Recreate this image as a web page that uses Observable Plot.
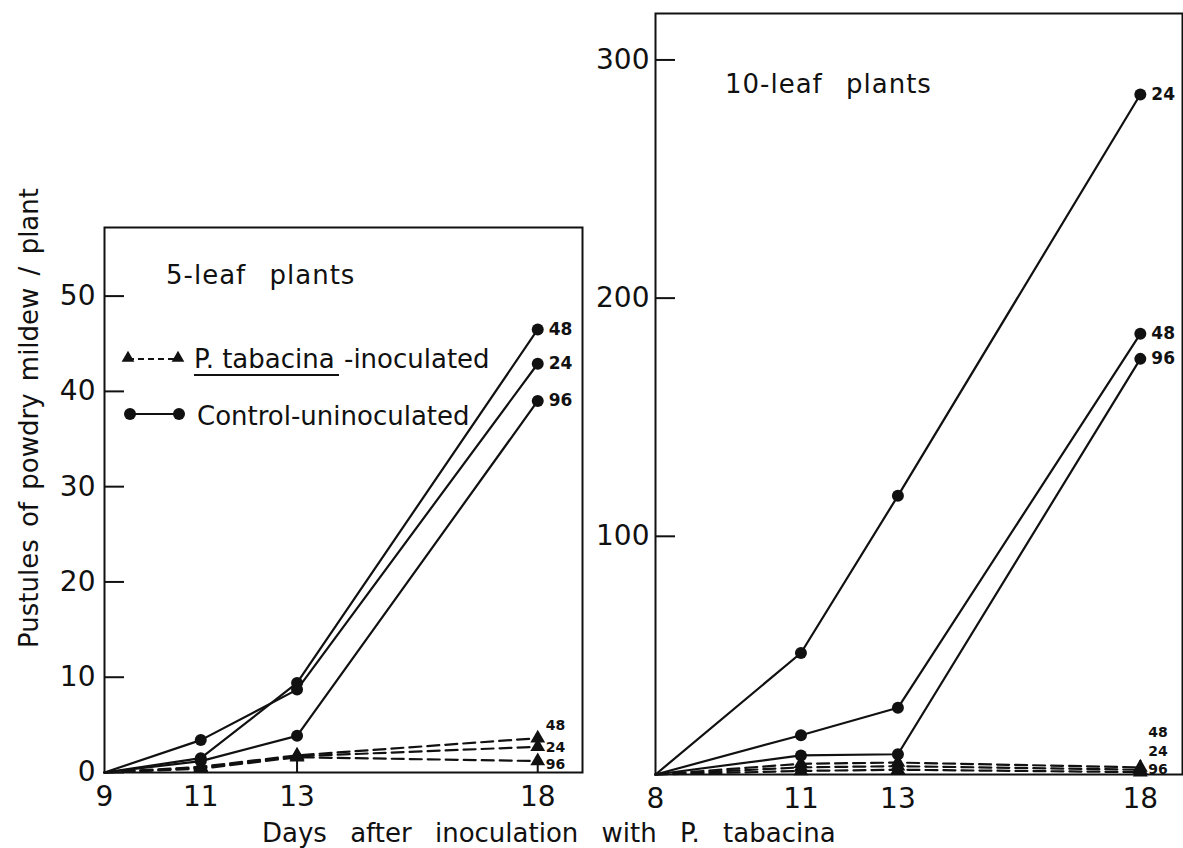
<!DOCTYPE html>
<html>
<head>
<meta charset="utf-8">
<script src="https://cdn.jsdelivr.net/npm/d3@7"></script>
<script src="https://cdn.jsdelivr.net/npm/@observablehq/plot@0.6"></script>
<style>
  body { margin: 0; background: #fff; }
  #wrap { position: relative; width: 1183px; height: 848px; overflow: hidden; background: #fff; }
</style>
</head>
<body>
<div id="wrap"></div>
<script>
// ---------- data ----------
const days5  = [9, 11, 13, 18];
const days10 = [8, 11, 13, 18];

// 5-leaf plants (pustules / plant)
const ctrl5_24 = [0, 3.4, 8.7, 42.9];
const ctrl5_48 = [0, 1.5, 9.4, 46.5];
const ctrl5_96 = [0, 1.2, 3.85, 39.0];
const inoc5_24 = [0, 0.5, 1.7, 2.7];
const inoc5_48 = [0, 0.6, 1.8, 3.6];
const inoc5_96 = [0, 0.4, 1.6, 1.2];

// 10-leaf plants
const ctrl10_24 = [0, 51, 117, 285.5];
const ctrl10_48 = [0, 16.5, 28, 185];
const ctrl10_96 = [0, 8, 8.5, 174.5];
const inoc10_24 = [0, 3, 3.5, 2];
const inoc10_48 = [0, 4.5, 5, 3];
const inoc10_96 = [0, 1.5, 2, 1];

const yTicks5  = [0, 10, 20, 30, 40, 50];
const yTicks10 = [100, 200, 300];
const xTicks5  = [9, 11, 13, 18];
const xTicks10 = [8, 11, 13, 18];

const title5  = "5-leaf plants";
const title10 = "10-leaf plants";
const xTitle  = "Days after inoculation with P. tabacina";
const yTitle  = "Pustules of powdry mildew / plant";

// ---------- helpers ----------
function rows(days, list) {
  return list.flatMap(([series, vals]) => vals.map((v, i) => ({day: days[i], value: v, series})));
}
const ink = "#111";
const font = "DejaVu Sans";

const c5 = rows(days5, [["24", ctrl5_24], ["48", ctrl5_48], ["96", ctrl5_96]]);
const i5 = rows(days5, [["24", inoc5_24], ["48", inoc5_48], ["96", inoc5_96]]);
const c10 = rows(days10, [["24", ctrl10_24], ["48", ctrl10_48], ["96", ctrl10_96]]);
const i10 = rows(days10, [["24", inoc10_24], ["48", inoc10_48], ["96", inoc10_96]]);

function panel({ctrl, inoc, days, yTicks, xTicks, xDomain, yDomain, width, height, mL, mR, mT, mB,
                left, yPad, ctrlDx, inocDx, inocDy}) {
  const innerW = width - mL - mR, innerH = height - mT - mB;
  const last = days[days.length - 1];
  const labelMarks = Object.entries(inocDy).map(([s, dy]) =>
    Plot.text(inoc.filter(d => d.day === last && d.series === s),
      {x: "day", y: "value", text: "series", dx: inocDx, dy, textAnchor: "start",
       fontSize: 14, fontWeight: "bold", fill: ink, fontFamily: font}));
  const svg = Plot.plot({
    width, height,
    marginLeft: mL, marginRight: mR, marginTop: mT, marginBottom: mB,
    x: {domain: xDomain},
    y: {domain: yDomain},
    style: {position: "absolute", left: left + "px", top: "0px", background: "transparent",
            fontFamily: font, color: ink, overflow: "visible"},
    marks: [
      Plot.tickY(yTicks, {y: d => d, insetRight: innerW - 20, stroke: ink, strokeWidth: 2}),
      Plot.tickX(xTicks.slice(1), {x: d => d, insetTop: innerH - 14, stroke: ink, strokeWidth: 2}),
      Plot.axisY(yTicks, {tickSize: 0, tickPadding: yPad, fontSize: 28, label: null, fill: ink}),
      Plot.axisX(xTicks, {tickSize: 0, tickPadding: 14, fontSize: 28, label: null, fill: ink}),
      Plot.line(inoc, {x: "day", y: "value", z: "series", stroke: ink, strokeWidth: 2.2, strokeDasharray: "12,6"}),
      Plot.line(ctrl, {x: "day", y: "value", z: "series", stroke: ink, strokeWidth: 2.2}),
      Plot.dot(inoc.filter(d => d.day !== days[0]), {x: "day", y: "value", symbol: "triangle", r: 5.5, fill: ink}),
      Plot.dot(ctrl.filter(d => d.day !== days[0]), {x: "day", y: "value", r: 6, fill: ink}),
      Plot.text(ctrl.filter(d => d.day === last), {x: "day", y: "value", text: "series", dx: ctrlDx,
        textAnchor: "start", fontSize: 17, fontWeight: "bold", fill: ink, fontFamily: font}),
      ...labelMarks,
      Plot.frame({stroke: ink, strokeWidth: 2})
    ]
  });
  return svg;
}

const wrap = document.getElementById("wrap");

wrap.appendChild(panel({
  ctrl: c5, inoc: i5, days: days5, yTicks: yTicks5, xTicks: xTicks5,
  xDomain: [9, 18.93], yDomain: [0, 57.2],
  width: 590, height: 848, mL: 104, mR: 8, mT: 227, mB: 76,
  left: 0, yPad: 9, ctrlDx: 11, inocDx: 8, inocDy: {"48": -13, "24": 1, "96": 3}
}));

wrap.appendChild(panel({
  ctrl: c10, inoc: i10, days: days10, yTicks: yTicks10, xTicks: xTicks10,
  xDomain: [8, 18.87], yDomain: [0, 319.5],
  width: 583, height: 848, mL: 55, mR: 1, mT: 13, mB: 74,
  left: 600, yPad: 6, ctrlDx: 11, inocDx: 8, inocDy: {"48": -35, "24": -18, "96": -3}
}));

// ---------- text overlay (titles, legend, axis titles) ----------
const ov = d3.create("svg")
  .attr("width", 1183).attr("height", 848)
  .style("position", "absolute").style("left", "0px").style("top", "0px")
  .style("font-family", font).attr("fill", ink);

ov.append("text").attr("x", 166).attr("y", 284).attr("font-size", 26)
  .attr("letter-spacing", 1).attr("word-spacing", 14).text(title5);
ov.append("text").attr("x", 725).attr("y", 93).attr("font-size", 26)
  .attr("letter-spacing", 1).attr("word-spacing", 14).text(title10);

// legend
const lg = ov.append("g");
lg.append("line").attr("x1", 128).attr("x2", 178).attr("y1", 359).attr("y2", 359)
  .attr("stroke", ink).attr("stroke-width", 2).attr("stroke-dasharray", "6,4");
[128, 178].forEach(x => lg.append("path")
  .attr("d", d3.symbol(d3.symbolTriangle, 70)())
  .attr("transform", `translate(${x},358)`).attr("fill", ink));
lg.append("text").attr("x", 194).attr("y", 368).attr("font-size", 26).text("P. tabacina");
lg.append("line").attr("x1", 194).attr("x2", 339).attr("y1", 375).attr("y2", 375)
  .attr("stroke", ink).attr("stroke-width", 2);
lg.append("text").attr("x", 344).attr("y", 368).attr("font-size", 26).text("-inoculated");
lg.append("line").attr("x1", 130).attr("x2", 179).attr("y1", 414).attr("y2", 414)
  .attr("stroke", ink).attr("stroke-width", 2.2);
[130, 179].forEach(x => lg.append("circle").attr("cx", x).attr("cy", 414).attr("r", 6).attr("fill", ink));
lg.append("text").attr("x", 197).attr("y", 425).attr("font-size", 26).text("Control-uninoculated");

// axis titles
ov.append("text").attr("x", 262).attr("y", 842).attr("font-size", 26)
  .attr("word-spacing", 15).text(xTitle);
ov.append("text").attr("transform", "translate(38,418) rotate(-90)").attr("text-anchor", "middle")
  .attr("font-size", 26).attr("word-spacing", 4).text(yTitle);

wrap.appendChild(ov.node());
</script>
</body>
</html>
